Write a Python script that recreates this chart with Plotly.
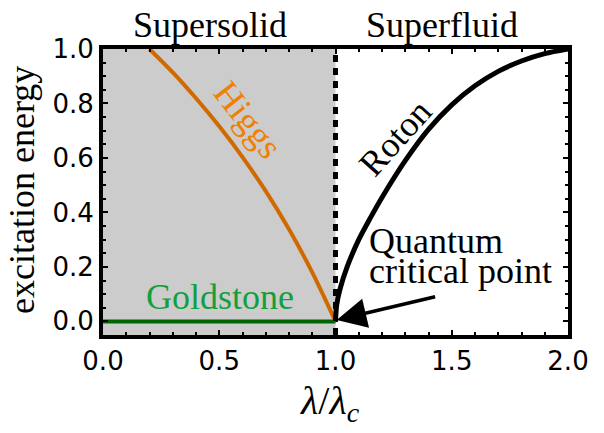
import plotly.graph_objects as go

# ---- data ----
higgs_x = [0.2, 0.3, 0.4, 0.5, 0.6, 0.7, 0.8, 0.9, 1.0]
higgs_y = [1.0, 0.914, 0.819, 0.716, 0.603, 0.478, 0.338, 0.18, 0.0]

roton_x = [1.0, 1.005, 1.02, 1.05, 1.1, 1.15, 1.2, 1.3, 1.4, 1.5, 1.6, 1.7, 1.8, 1.9, 2.0]
roton_y = [0.0, 0.06, 0.12, 0.2, 0.30, 0.38, 0.455, 0.59, 0.705, 0.795, 0.865, 0.918, 0.956, 0.983, 1.0]

goldstone_x = [0.0, 1.0]
goldstone_y = [0.0, 0.0]

critical_x = [1.0, 1.0]
critical_y = [-0.05, 1.0]

x_ticks = [0.0, 0.5, 1.0, 1.5, 2.0]
y_ticks = [0.0, 0.2, 0.4, 0.6, 0.8, 1.0]

SERIF = "Liberation Serif"
SANS = "DejaVu Sans"
TXT = 36

W, H = 604, 433
ML, MR, MT, MB = 103, 36, 49, 98
PW, PH = W - ML - MR, H - MT - MB

def px2paper_x(px):
    return (px - ML) / PW

def px2paper_y(py):
    return (H - MB - py) / PH

fig = go.Figure()

fig.add_shape(type="rect", xref="x", yref="y", x0=0, x1=1, y0=-0.05, y1=1.0,
              fillcolor="#cccccc", line=dict(width=0), layer="below")

fig.add_trace(go.Scatter(x=critical_x, y=critical_y, mode="lines",
                         line=dict(color="black", width=5, dash="7px,6px"),
                         hoverinfo="skip", showlegend=False))
fig.add_trace(go.Scatter(x=goldstone_x, y=goldstone_y, mode="lines",
                         line=dict(color="#006400", width=4),
                         showlegend=False))
fig.add_trace(go.Scatter(x=higgs_x, y=higgs_y, mode="lines",
                         line=dict(color="#d06a00", width=4, shape="spline", smoothing=0.8),
                         showlegend=False))
fig.add_trace(go.Scatter(x=roton_x, y=roton_y, mode="lines",
                         line=dict(color="black", width=5, shape="spline", smoothing=0.8),
                         showlegend=False))

def txt(text, x, y, xref="x", yref="y", color="black", size=TXT, angle=0,
        xanchor="center", yanchor="middle"):
    return dict(text=text, x=x, y=y, xref=xref, yref=yref, showarrow=False,
                textangle=angle, xanchor=xanchor, yanchor=yanchor,
                font=dict(family=SERIF, size=size, color=color))

ann = [
    txt("Supersolid", 0.46, px2paper_y(25), yref="paper"),
    txt("Superfluid", 1.46, px2paper_y(25), yref="paper"),
    txt("Higgs", 0.625, 0.74, color="#f08000", angle=52),
    txt("Roton", 1.255, 0.675, angle=-48),
    txt("Goldstone", 0.505, 0.09, color="#13a03c"),
    txt("Quantum", 1.135, 0.295, xanchor="left"),
    txt("critical point", 1.135, 0.185, xanchor="left"),
    txt("excitation energy", px2paper_x(22), px2paper_y(190), xref="paper",
        yref="paper", angle=-90),
    txt("<i>λ</i>/<i>λ</i><sub><i>c</i></sub>", px2paper_x(330), px2paper_y(403),
        xref="paper", yref="paper", size=40),
    dict(text="", x=1.005, y=0.005, xref="x", yref="y",
         ax=1.435, ay=0.092, axref="x", ayref="y",
         showarrow=True, arrowhead=2, arrowsize=1.7, arrowwidth=3.5,
         arrowcolor="black", standoff=0),
]

fig.update_layout(
    width=W, height=H,
    margin=dict(l=ML, r=MR, t=MT, b=MB),
    paper_bgcolor="white", plot_bgcolor="white",
    annotations=ann,
    showlegend=False,
)
axis_common = dict(showline=True, linecolor="black", linewidth=4, mirror="ticks",
                   ticks="inside", ticklen=5, tickwidth=2, tickcolor="black",
                   showgrid=False, zeroline=False, automargin=False,
                   tickfont=dict(family=SANS, size=26, color="black"))
fig.update_xaxes(range=[0, 2], tickvals=x_ticks, ticktext=[f"{v:.1f}" for v in x_ticks],
                 minor=dict(ticks="inside", ticklen=3, tickwidth=2, dtick=0.1,
                            tickcolor="black", showgrid=False),
                 **axis_common)
fig.update_yaxes(range=[-0.05, 1.0], tickvals=y_ticks, ticktext=[f"{v:.1f}" for v in y_ticks],
                 minor=dict(ticks="inside", ticklen=3, tickwidth=2, dtick=0.05,
                            tickcolor="black", showgrid=False),
                 **axis_common)

fig.write_html("out.html",
               config={"displayModeBar": False},
               post_script="document.body.style.margin='0';document.body.style.overflow='hidden';")
